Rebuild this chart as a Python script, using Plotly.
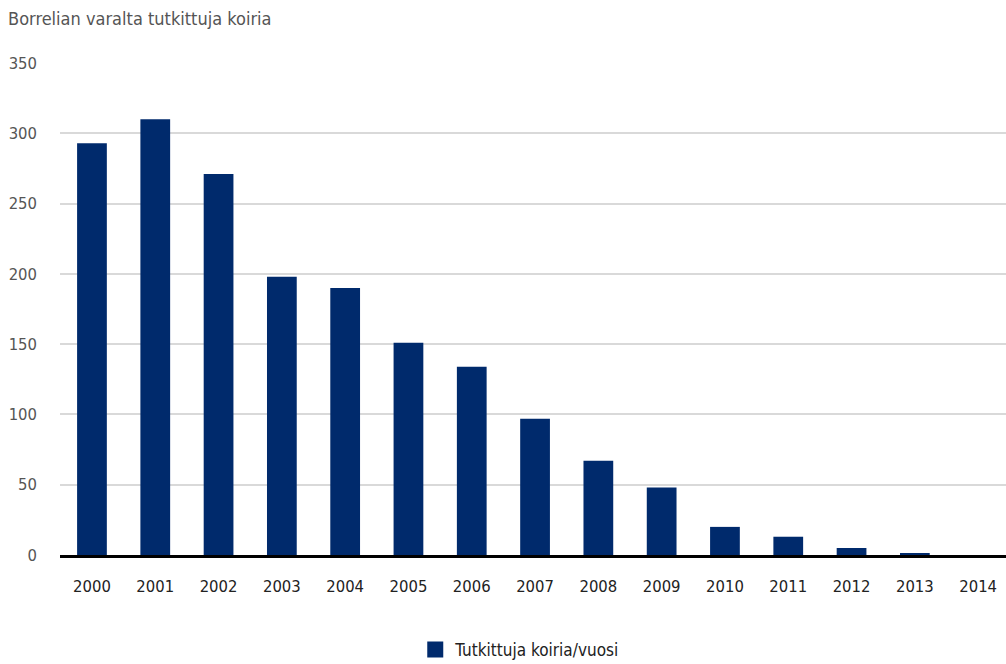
import plotly.graph_objects as go

years = ["2000", "2001", "2002", "2003", "2004", "2005", "2006", "2007",
         "2008", "2009", "2010", "2011", "2012", "2013", "2014"]
dogs = [293, 310, 271, 198, 190, 151, 134, 97, 67, 48, 20, 13, 5, 1, 0]
y_ticks = [0, 50, 100, 150, 200, 250, 300, 350]

FONT = "DejaVu Sans Condensed, Liberation Sans Narrow, sans-serif"
BAR = "#002a6c"

fig = go.Figure()
fig.add_trace(go.Bar(
    x=years, y=dogs, name="Tutkittuja koiria/vuosi",
    marker=dict(color=BAR, line=dict(width=0)),
    showlegend=False,
))
fig.add_trace(go.Scatter(
    x=[None], y=[None], mode="markers", name="Tutkittuja koiria/vuosi",
    marker=dict(symbol="square", size=18, color=BAR),
    showlegend=True,
))

fig.update_layout(
    width=1006, height=664,
    margin=dict(l=60, r=0, t=63, b=109),
    paper_bgcolor="white", plot_bgcolor="white",
    font=dict(family=FONT, size=16, color="#222"),
    bargap=0.53,
    title=dict(text="Borrelian varalta tutkittuja koiria",
               x=0.008, xref="container", xanchor="left",
               y=0.972, yref="container", yanchor="middle",
               font=dict(family=FONT, size=18, color="#555")),
    showlegend=True,
    legend=dict(orientation="h", x=0.486, xref="paper", xanchor="center",
                y=0.021, yref="container", yanchor="middle",
                font=dict(family=FONT, size=17, color="#222"),
                itemsizing="trace"),
    xaxis=dict(type="category", range=[-0.505, 14.44], showgrid=False,
               showline=True, linecolor="black", linewidth=3,
               ticks="", ticklabelstandoff=14,
               tickfont=dict(family=FONT, size=16.5, color="#222")),
    yaxis=dict(range=[0, 350], tickvals=y_ticks, showgrid=True,
               gridcolor="#d9d9d9", gridwidth=2, zeroline=False,
               ticks="", ticklabelstandoff=22,
               tickfont=dict(family=FONT, size=16.5, color="#555")),
)

fig.write_html("out.html")
